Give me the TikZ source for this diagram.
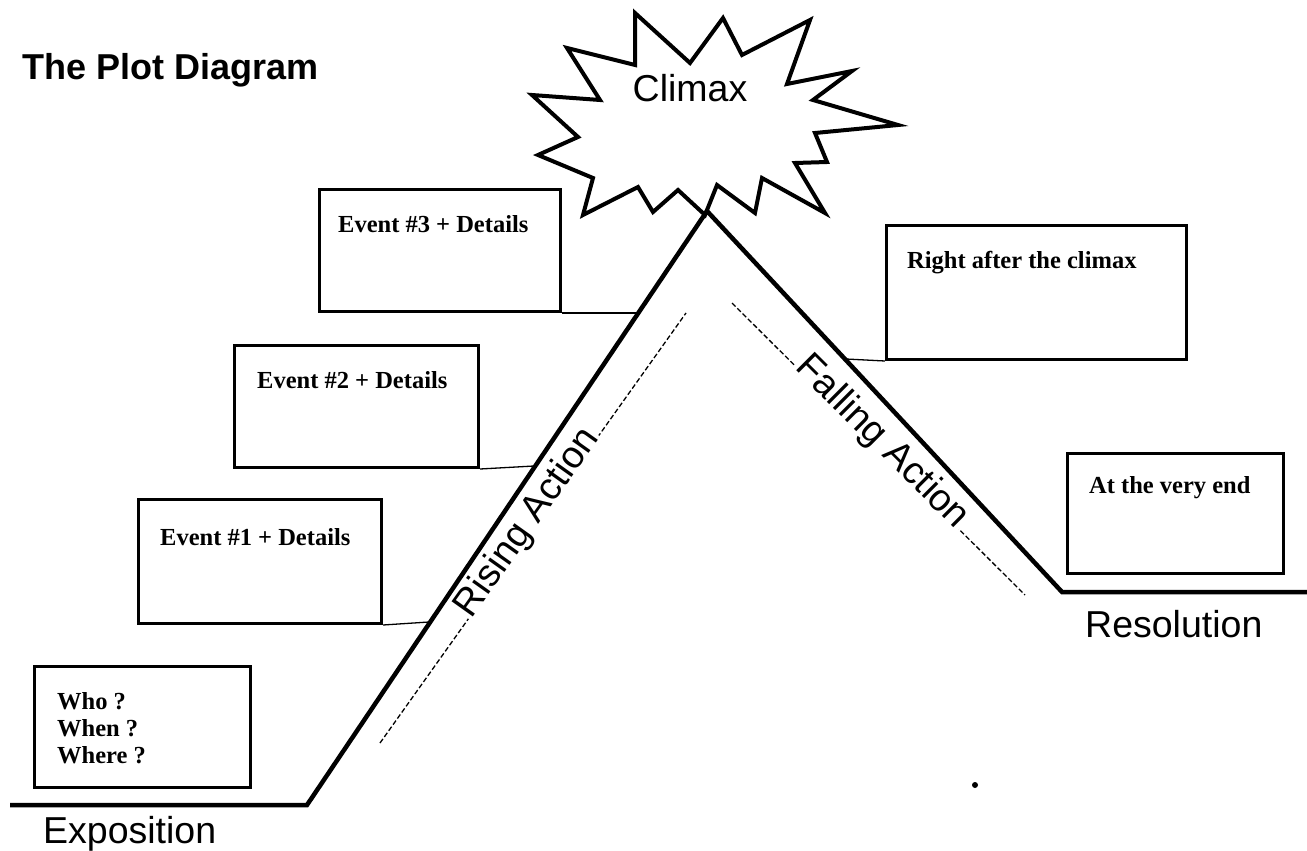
\documentclass[tikz,border=0pt]{standalone}
\usepackage{fontspec}
\setmainfont{Liberation Sans}
\newfontfamily\boxfont{Liberation Serif}
\begin{document}
\begin{tikzpicture}[x=1pt,y=-1pt,
  plotline/.style={line width=4.5pt, line join=miter, line cap=butt},
  burst/.style={line width=4pt, line join=miter},
  boxstyle/.style={draw, line width=3pt, anchor=north west, inner sep=0pt},
  conn/.style={line width=1.3pt},
  dashline/.style={line width=1.3pt, dash pattern=on 5pt off 2.5pt},
  boxtext/.style={font=\boxfont\bfseries\fontsize{24.5}{27}\selectfont, anchor=base west, inner sep=0pt},
  biglabel/.style={font=\fontsize{37.5}{43}\selectfont, inner sep=0pt},
  sloplabel/.style={font=\fontsize{38}{43}\selectfont, sloped, anchor=mid, fill=white, inner sep=1.5pt}]
\useasboundingbox (0,0) rectangle (1307,851);
\fill[white] (0,0) rectangle (1307,851);

% title
\node[font=\bfseries\fontsize{36}{40}\selectfont, anchor=base west, inner sep=0pt] (title) at (22,80) {The Plot Diagram};

% climax starburst
\draw[burst] (635,13) -- (690,63) -- (723,18) -- (742,55) -- (810,20) -- (787,84)
  -- (852,71) -- (813,100) -- (898,125) -- (815,133) -- (827,162) -- (795,163)
  -- (825,213) -- (762,178) -- (755,213) -- (717,185) -- (705,215) -- (678,190)
  -- (653,212) -- (638,187) -- (583,215) -- (593,178) -- (538,155) -- (578,137)
  -- (532,95) -- (600,100) -- (567,48) -- (635,65) -- cycle;
\node[biglabel, anchor=base] (climax) at (690,102) {Climax};

% dashed guide lines with labels
\coordinate (ra1) at (380,743);
\coordinate (ra2) at (686,313);
\coordinate (fa1) at (732,303);
\coordinate (fa2) at (1025,595);
\draw[dashline] (ra1) -- (ra2) node[sloplabel, pos=0.502] (rising) {Rising Action};
\draw[dashline] (fa1) -- (fa2) node[sloplabel, pos=0.495] (falling) {Falling Action};

% plot line
\coordinate (e0) at (10,805);
\coordinate (e1) at (307,805);
\coordinate (apex) at (707,211);
\coordinate (r0) at (1062,592);
\coordinate (r1) at (1307,592);
\draw[plotline] (e0) -- (e1) -- (apex) -- (r0) -- (r1);

% boxes
\node[boxstyle, minimum width=216pt, minimum height=121pt] (bexp) at (33,665) {};
\node[boxstyle, minimum width=243pt, minimum height=124pt] (bev1) at (137,498) {};
\node[boxstyle, minimum width=244pt, minimum height=122pt] (bev2) at (233,344) {};
\node[boxstyle, minimum width=241pt, minimum height=122pt] (bev3) at (318,188) {};
\node[boxstyle, minimum width=300pt, minimum height=134pt] (bfall) at (885,224) {};
\node[boxstyle, minimum width=216pt, minimum height=120pt] (bres) at (1066,452) {};

% box texts
\node[boxtext] (texp1) at (57,709) {Who ?};
\node[boxtext] (texp2) at (57,736) {When ?};
\node[boxtext] (texp3) at (57,763) {Where ?};
\node[boxtext] (tev1) at (160,545) {Event \#1 + Details};
\node[boxtext] (tev2) at (257,388) {Event \#2 + Details};
\node[boxtext] (tev3) at (338,232) {Event \#3 + Details};
\node[boxtext] (tfall) at (907,268) {Right after the climax};
\node[boxtext] (tres) at (1089,493) {At the very end};

% connectors
\coordinate (c1) at (429,622);
\coordinate (c2) at (534,466);
\coordinate (c3) at (637,313);
\coordinate (c4) at (846,359);
\draw[conn] (bev1.south east) -- (c1);
\draw[conn] (bev2.south east) -- (c2);
\draw[conn] (bev3.south east) -- (c3);
\draw[conn] (bfall.south west) -- (c4);

% stage labels
\node[biglabel, anchor=base west] (expo) at (43,843) {Exposition};
\node[biglabel, anchor=base west] (reso) at (1085,637) {Resolution};

% stray dot
\fill (975,785) circle (3pt);
\end{tikzpicture}
\end{document}
